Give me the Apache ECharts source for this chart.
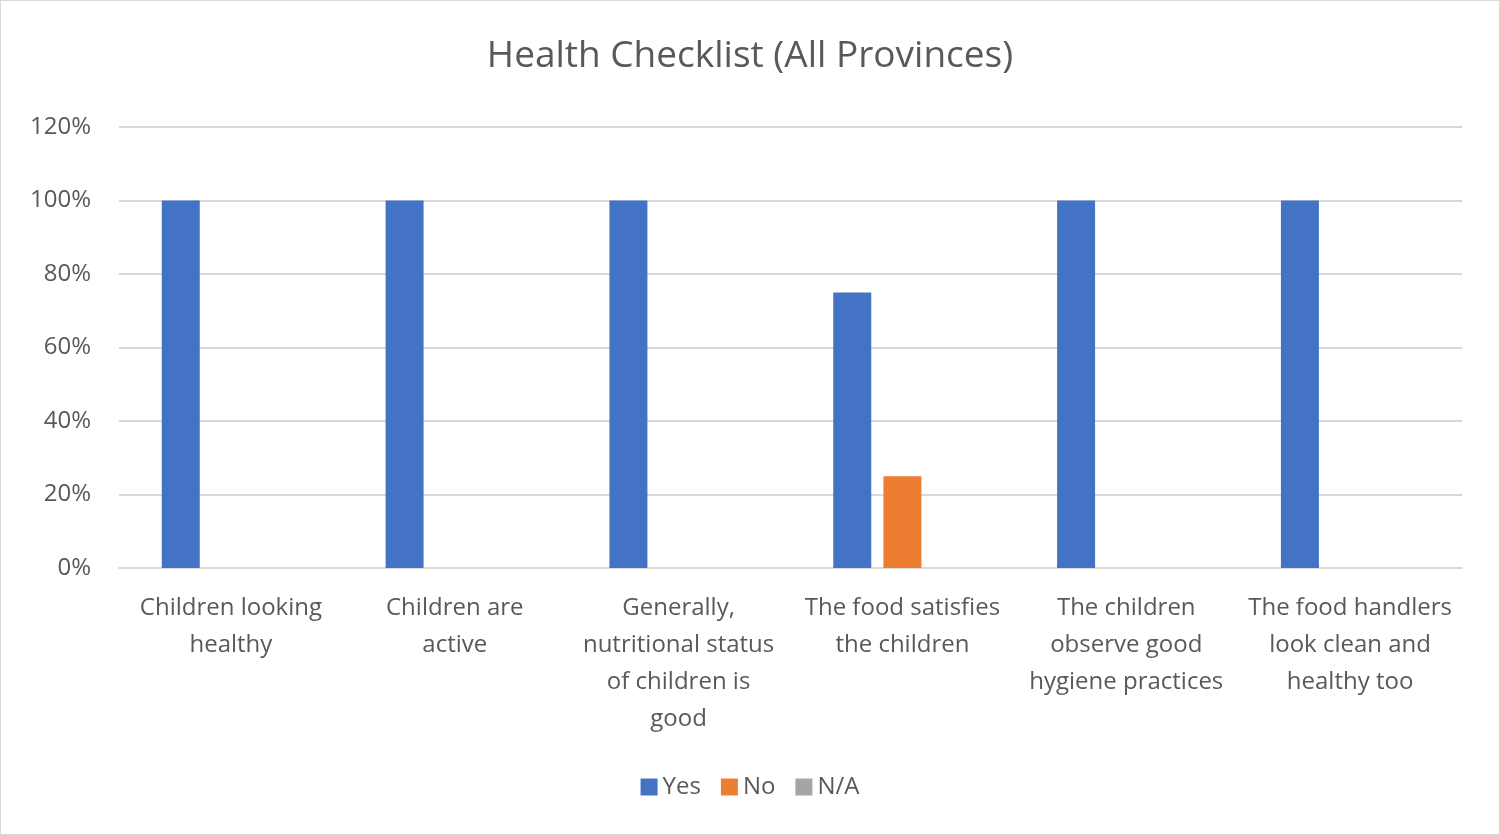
<!DOCTYPE html>
<html style="height: 100%">
<head>
    <meta charset="utf-8">
    <title>Health Checklist (All Provinces)</title>
    <script src="https://cdn.jsdelivr.net/npm/echarts@6/dist/echarts.min.js"></script>
</head>
<body style="height: 100%; margin: 0">
    <div id="main" style="position:absolute; left:0; top:0; width:1498px; height:833px; border:1px solid #d9d9d9; background:#fff"></div>
    <script>
        var categories = [
            'Children looking\nhealthy',
            'Children are\nactive',
            'Generally,\nnutritional status\nof children is\ngood',
            'The food satisfies\nthe children',
            'The children\nobserve good\nhygiene practices',
            'The food handlers\nlook clean and\nhealthy too'
        ];
        var yesValues = [100, 100, 100, 75, 100, 100];
        var noValues = [0, 0, 0, 25, 0, 0];
        var naValues = [0, 0, 0, 0, 0, 0];

        var font = '"Open Sans", "Noto Sans", sans-serif';
        var myChart = echarts.init(document.getElementById('main'));

        myChart.setOption({
            animation: false,
            title: {
                text: 'Health Checklist (All Provinces)',
                left: 'center',
                top: 32,
                textStyle: { fontFamily: font, fontSize: 37, fontWeight: 'normal', color: '#595959' }
            },
            legend: {
                bottom: 30,
                left: 'center',
                itemWidth: 17,
                itemHeight: 17,
                itemGap: 20,
                icon: 'rect',
                textStyle: { fontFamily: font, fontSize: 24, color: '#595959' },
                data: ['Yes', 'No', 'N/A']
            },
            grid: { left: 118, right: 37, top: 126, bottom: 266 },
            xAxis: {
                type: 'category',
                data: categories,
                axisTick: { show: false },
                axisLine: { lineStyle: { color: '#d9d9d9', width: 2 } },
                axisLabel: { fontFamily: font, fontSize: 24, color: '#595959', lineHeight: 37, margin: 22, interval: 0 }
            },
            yAxis: {
                type: 'value',
                min: 0,
                max: 120,
                interval: 20,
                axisLabel: { formatter: '{value}%', fontFamily: font, fontSize: 24, color: '#595959', margin: 28 },
                splitLine: { lineStyle: { color: '#d9d9d9', width: 2 } }
            },
            series: [
                { name: 'Yes', type: 'bar', data: yesValues, barWidth: 38, barGap: '32%', itemStyle: { color: '#4472c4' } },
                { name: 'No', type: 'bar', data: noValues, barWidth: 38, barGap: '32%', itemStyle: { color: '#ed7d31' } },
                { name: 'N/A', type: 'bar', data: naValues, barWidth: 38, barGap: '32%', itemStyle: { color: '#a5a5a5' } }
            ]
        });
    </script>
</body>
</html>
